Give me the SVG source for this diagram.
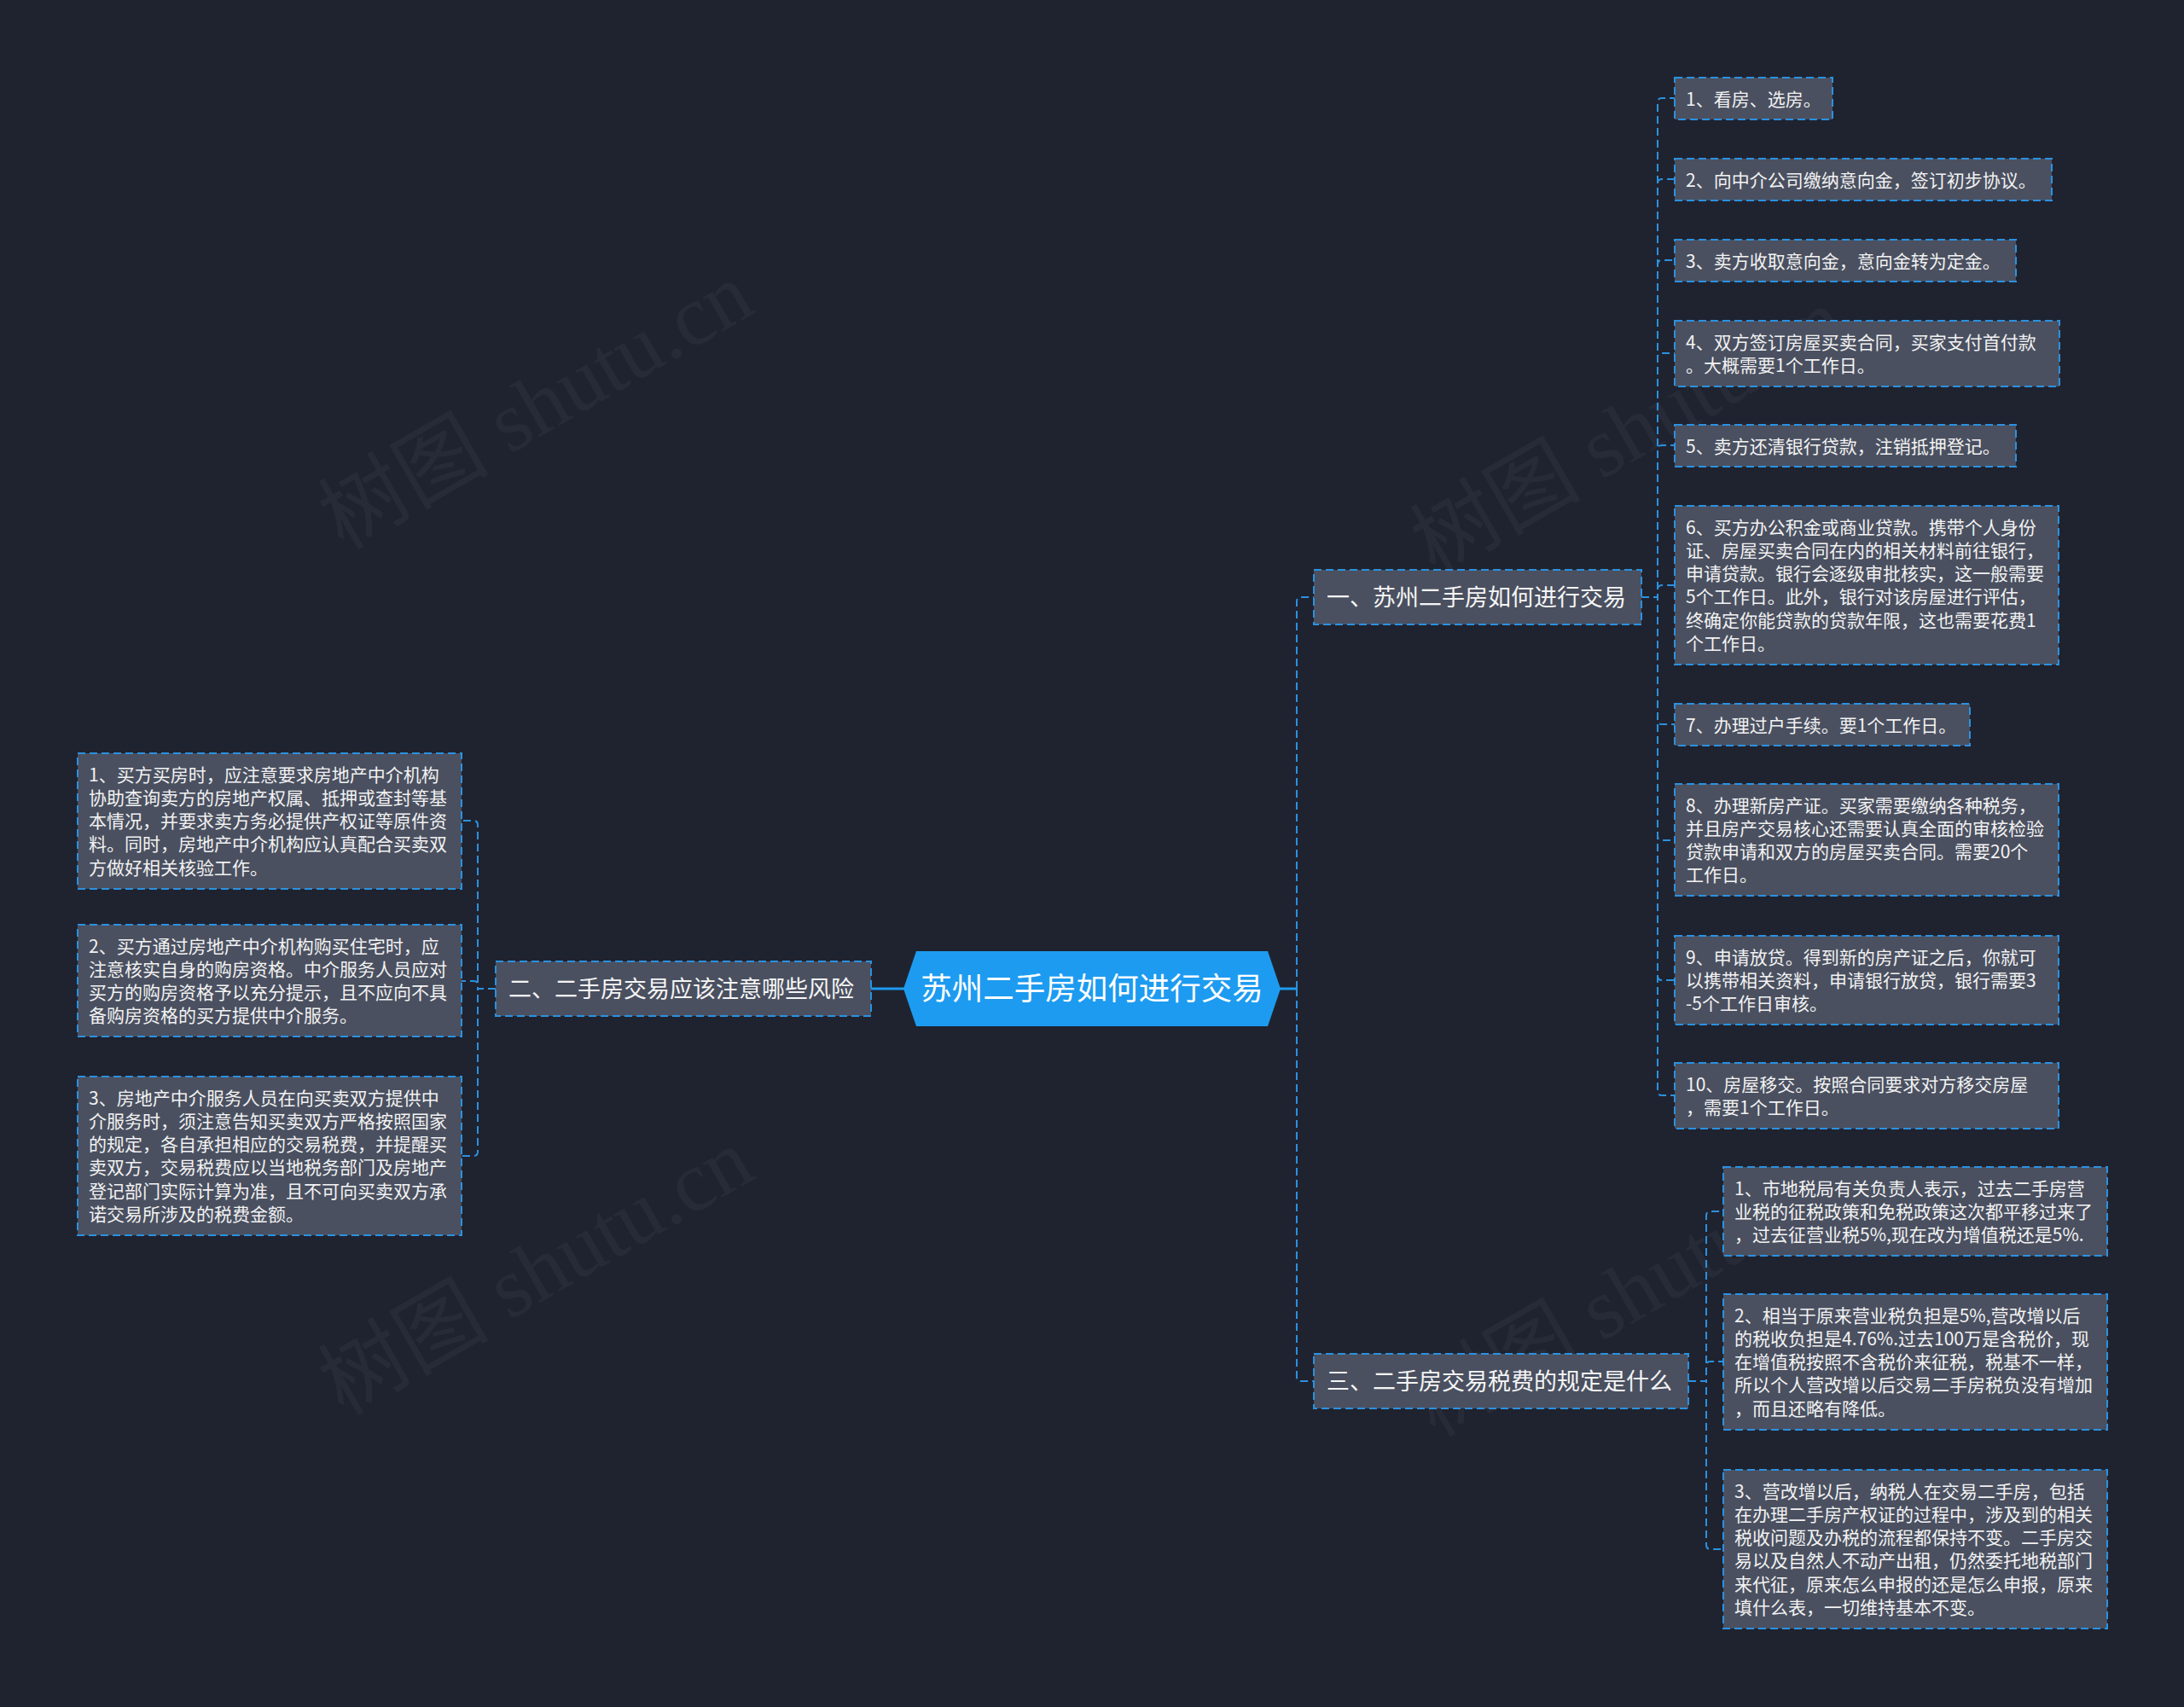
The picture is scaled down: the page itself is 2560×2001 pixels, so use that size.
<svg xmlns="http://www.w3.org/2000/svg" width="2560" height="2001" viewBox="0 0 2560 2001">
<style>
.bg{fill:#1f2330}
.box{fill:#4a5060;stroke:#2b91e0;stroke-width:2;stroke-dasharray:9 5}
.t{font-family:"Noto Sans CJK SC","Noto Sans",sans-serif;fill:#f2f2f2;font-size:21px}
.bt{font-family:"Noto Sans CJK SC","Noto Sans",sans-serif;fill:#f5f5f5;font-size:27px}
.rt{font-family:"Noto Sans CJK SC","Noto Sans",sans-serif;fill:#ffffff;font-size:36.5px}
.dash{fill:none;stroke:#2b91e0;stroke-width:2;stroke-dasharray:9 5}
.solid{fill:none;stroke:#1d9bf0;stroke-width:3}
.wm{font-family:"Liberation Serif","Noto Sans CJK SC",serif;font-size:100px;fill:#ffffff;opacity:0.035}
</style>
<rect class="bg" x="0" y="0" width="2560" height="2001"/>
<g id="watermarks">
<text class="wm" text-anchor="middle" transform="translate(645,505) rotate(-30)">树图 shutu.cn</text>
<text class="wm" text-anchor="middle" transform="translate(645,1520) rotate(-30)">树图 shutu.cn</text>
<text class="wm" text-anchor="middle" transform="translate(1925,535) rotate(-30)">树图 shutu.cn</text>
<text class="wm" text-anchor="middle" transform="translate(1925,1545) rotate(-30)">树图 shutu.cn</text>
</g>
<g id="connectors">
<path class="solid" d="M1021 1159 H1060"/>
<path class="solid" d="M1499 1159 H1520"/>
<path class="dash" d="M1520 1159 V705 Q1520 700 1525 700 H1540"/>
<path class="dash" d="M1520 1159 V1614 Q1520 1619 1525 1619 H1540"/>
<path class="dash" d="M1924 700 H1943 V120 Q1943 115 1948 115 H1963"/>
<path class="dash" d="M1924 700 H1943 V215 Q1943 210 1948 210 H1963"/>
<path class="dash" d="M1924 700 H1943 V310 Q1943 305 1948 305 H1963"/>
<path class="dash" d="M1924 700 H1943 V419 Q1943 414 1948 414 H1963"/>
<path class="dash" d="M1924 700 H1943 V527 Q1943 522 1948 522 H1963"/>
<path class="dash" d="M1924 700 H1943 V691 Q1943 686 1948 686 H1963"/>
<path class="dash" d="M1924 700 H1943 V844 Q1943 849 1948 849 H1963"/>
<path class="dash" d="M1924 700 H1943 V980 Q1943 985 1948 985 H1963"/>
<path class="dash" d="M1924 700 H1943 V1144 Q1943 1149 1948 1149 H1963"/>
<path class="dash" d="M1924 700 H1943 V1279 Q1943 1284 1948 1284 H1963"/>
<path class="dash" d="M1979 1619 H2000 V1425 Q2000 1420 2005 1420 H2020"/>
<path class="dash" d="M1979 1619 H2000 V1601 Q2000 1596 2005 1596 H2020"/>
<path class="dash" d="M1979 1619 H2000 V1811 Q2000 1816 2005 1816 H2020"/>
<path class="dash" d="M581 1159 H560 V967 Q560 962 555 962 H541"/>
<path class="dash" d="M581 1159 H560 V1155 Q560 1150 555 1150 H541"/>
<path class="dash" d="M581 1159 H560 V1350 Q560 1355 555 1355 H541"/>
</g>
<g id="root">
<polygon points="1059,1159 1074,1115 1486,1115 1501,1159 1486,1203 1074,1203" fill="#1d9bf0"/>
<text class="rt" x="1280" y="1172" text-anchor="middle">苏州二手房如何进行交易</text>
</g>
<g id="branch1">
<rect class="box" x="1540" y="668" width="384" height="64"/>
<text class="bt" x="1555" y="710">一、苏州二手房如何进行交易</text>
</g>
<g id="branch2">
<rect class="box" x="581" y="1127" width="440" height="64"/>
<text class="bt" x="596" y="1169">二、二手房交易应该注意哪些风险</text>
</g>
<g id="branch3">
<rect class="box" x="1540" y="1587" width="439" height="64"/>
<text class="bt" x="1555" y="1629">三、二手房交易税费的规定是什么</text>
</g>
<g id="r1">
<rect class="box" x="1963" y="91" width="185" height="49"/>
<text class="t" x="1976" y="123.5">1、看房、选房。</text>
</g>
<g id="r2">
<rect class="box" x="1963" y="186" width="442" height="49"/>
<text class="t" x="1976" y="218.5">2、向中介公司缴纳意向金，签订初步协议。</text>
</g>
<g id="r3">
<rect class="box" x="1963" y="281" width="400" height="49"/>
<text class="t" x="1976" y="313.5">3、卖方收取意向金，意向金转为定金。</text>
</g>
<g id="r4">
<rect class="box" x="1963" y="376" width="451" height="77"/>
<text class="t" x="1976" y="408.5">4、双方签订房屋买卖合同，买家支付首付款<tspan x="1976" dy="27.3">。大概需要1个工作日。</tspan></text>
</g>
<g id="r5">
<rect class="box" x="1963" y="498" width="400" height="49"/>
<text class="t" x="1976" y="530.5">5、卖方还清银行贷款，注销抵押登记。</text>
</g>
<g id="r6">
<rect class="box" x="1963" y="593" width="450" height="186"/>
<text class="t" x="1976" y="625.5">6、买方办公积金或商业贷款。携带个人身份<tspan x="1976" dy="27.3">证、房屋买卖合同在内的相关材料前往银行，</tspan><tspan x="1976" dy="27.3">申请贷款。银行会逐级审批核实，这一般需要</tspan><tspan x="1976" dy="27.3">5个工作日。此外，银行对该房屋进行评估，</tspan><tspan x="1976" dy="27.3">终确定你能贷款的贷款年限，这也需要花费1</tspan><tspan x="1976" dy="27.3">个工作日。</tspan></text>
</g>
<g id="r7">
<rect class="box" x="1963" y="825" width="346" height="49"/>
<text class="t" x="1976" y="857.5">7、办理过户手续。要1个工作日。</text>
</g>
<g id="r8">
<rect class="box" x="1963" y="919" width="450" height="131"/>
<text class="t" x="1976" y="951.5">8、办理新房产证。买家需要缴纳各种税务，<tspan x="1976" dy="27.3">并且房产交易核心还需要认真全面的审核检验</tspan><tspan x="1976" dy="27.3">贷款申请和双方的房屋买卖合同。需要20个</tspan><tspan x="1976" dy="27.3">工作日。</tspan></text>
</g>
<g id="r9">
<rect class="box" x="1963" y="1097" width="450" height="104"/>
<text class="t" x="1976" y="1129.5">9、申请放贷。得到新的房产证之后，你就可<tspan x="1976" dy="27.3">以携带相关资料，申请银行放贷，银行需要3</tspan><tspan x="1976" dy="27.3">-5个工作日审核。</tspan></text>
</g>
<g id="r10">
<rect class="box" x="1963" y="1246" width="450" height="77"/>
<text class="t" x="1976" y="1278.5">10、房屋移交。按照合同要求对方移交房屋<tspan x="1976" dy="27.3">，需要1个工作日。</tspan></text>
</g>
<g id="t1">
<rect class="box" x="2020" y="1368" width="450" height="104"/>
<text class="t" x="2033" y="1400.5">1、市地税局有关负责人表示，过去二手房营<tspan x="2033" dy="27.3">业税的征税政策和免税政策这次都平移过来了</tspan><tspan x="2033" dy="27.3">，过去征营业税5%,现在改为增值税还是5%.</tspan></text>
</g>
<g id="t2">
<rect class="box" x="2020" y="1517" width="450" height="159"/>
<text class="t" x="2033" y="1549.5">2、相当于原来营业税负担是5%,营改增以后<tspan x="2033" dy="27.3">的税收负担是4.76%.过去100万是含税价，现</tspan><tspan x="2033" dy="27.3">在增值税按照不含税价来征税，税基不一样，</tspan><tspan x="2033" dy="27.3">所以个人营改增以后交易二手房税负没有增加</tspan><tspan x="2033" dy="27.3">，而且还略有降低。</tspan></text>
</g>
<g id="t3">
<rect class="box" x="2020" y="1723" width="450" height="186"/>
<text class="t" x="2033" y="1755.5">3、营改增以后，纳税人在交易二手房，包括<tspan x="2033" dy="27.3">在办理二手房产权证的过程中，涉及到的相关</tspan><tspan x="2033" dy="27.3">税收问题及办税的流程都保持不变。二手房交</tspan><tspan x="2033" dy="27.3">易以及自然人不动产出租，仍然委托地税部门</tspan><tspan x="2033" dy="27.3">来代征，原来怎么申报的还是怎么申报，原来</tspan><tspan x="2033" dy="27.3">填什么表，一切维持基本不变。</tspan></text>
</g>
<g id="l1">
<rect class="box" x="91" y="883" width="450" height="159"/>
<text class="t" x="104" y="915.5">1、买方买房时，应注意要求房地产中介机构<tspan x="104" dy="27.3">协助查询卖方的房地产权属、抵押或查封等基</tspan><tspan x="104" dy="27.3">本情况，并要求卖方务必提供产权证等原件资</tspan><tspan x="104" dy="27.3">料。同时，房地产中介机构应认真配合买卖双</tspan><tspan x="104" dy="27.3">方做好相关核验工作。</tspan></text>
</g>
<g id="l2">
<rect class="box" x="91" y="1084" width="450" height="131"/>
<text class="t" x="104" y="1116.5">2、买方通过房地产中介机构购买住宅时，应<tspan x="104" dy="27.3">注意核实自身的购房资格。中介服务人员应对</tspan><tspan x="104" dy="27.3">买方的购房资格予以充分提示，且不应向不具</tspan><tspan x="104" dy="27.3">备购房资格的买方提供中介服务。</tspan></text>
</g>
<g id="l3">
<rect class="box" x="91" y="1262" width="450" height="186"/>
<text class="t" x="104" y="1294.5">3、房地产中介服务人员在向买卖双方提供中<tspan x="104" dy="27.3">介服务时，须注意告知买卖双方严格按照国家</tspan><tspan x="104" dy="27.3">的规定，各自承担相应的交易税费，并提醒买</tspan><tspan x="104" dy="27.3">卖双方，交易税费应以当地税务部门及房地产</tspan><tspan x="104" dy="27.3">登记部门实际计算为准，且不可向买卖双方承</tspan><tspan x="104" dy="27.3">诺交易所涉及的税费金额。</tspan></text>
</g>
</svg>
